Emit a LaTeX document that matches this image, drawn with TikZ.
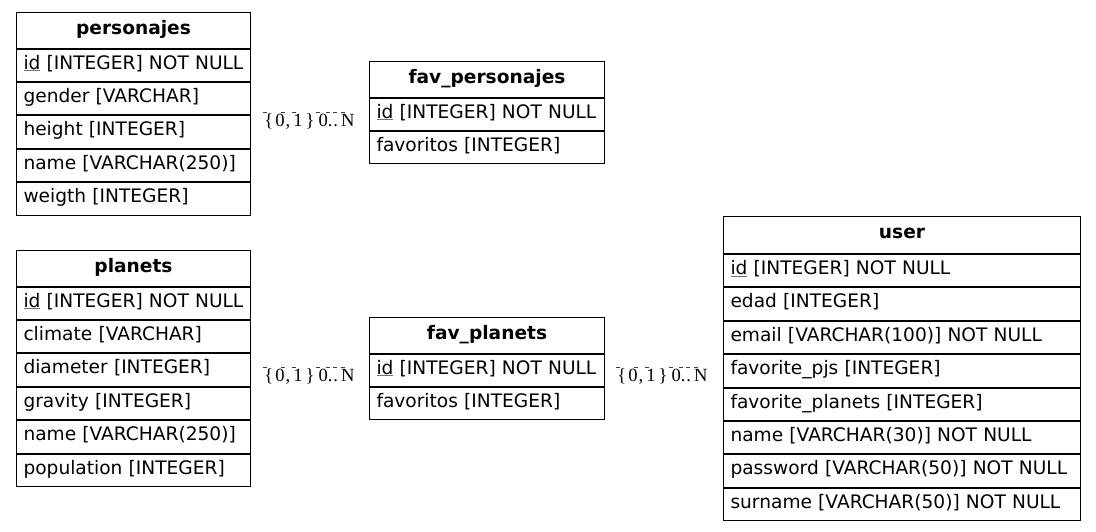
\documentclass[tikz,border=0pt]{standalone}
\usepackage{fontspec}
\setmainfont{DejaVu Sans}
\newfontfamily\cardfont{Liberation Serif}
\usepackage{tikz}
\usetikzlibrary{positioning}

% primary key: grey underline
\newcommand{\pkey}[1]{{\color{black!55}\underline{\textcolor{black}{#1}}}}
% short bar over the cardinality labels
\newcommand{\ovbar}{\makebox[0pt][l]{\color{black!75}\rule[13.5pt]{4pt}{0.7pt}}}
\newcommand{\card}{\cardfont\fontsize{18.6}{21}\selectfont
  \ovbar\hspace{1pt}\{\hspace{2pt}0\hspace{-4pt}\ovbar\hspace{4pt}\hspace{1pt},\hspace{2pt}\ovbar\hspace{1pt}1\hspace{3pt}\}\hspace{1pt}\ovbar\hspace{3pt}0\hspace{-2pt}\ovbar\hspace{2pt}.\hspace{1pt}\ovbar.\hspace{3pt}\ovbar N}

\begin{document}
\begin{tikzpicture}[
        x=1pt, y=-1pt,
        hdr/.style={draw, line width=1pt, anchor=north west, text width=#1, align=center,
                    inner xsep=7pt, inner ysep=0pt, minimum height=35.5pt,
                    text height=13pt, text depth=5.4pt,
                    font=\fontsize{18.6}{21}\selectfont\bfseries},
        fld/.style={draw, line width=1pt, text width=#1, align=left,
                    inner xsep=7pt, inner ysep=0pt, minimum height=32.4pt,
                    text height=13pt, text depth=5.4pt,
                    font=\fontsize{18.6}{21}\selectfont},
        cardlbl/.style={inner sep=0pt}
    ]
    \useasboundingbox (0,0) rectangle (1096,531);

    % personajes
    \node[hdr=220pt] at (16,12) (pers) {personajes};
    \node[fld=220pt, below=0pt of pers] (pers1) {\pkey{id} [INTEGER] NOT NULL};
    \node[fld=220pt, below=0pt of pers1] (pers2) {gender [VARCHAR]};
    \node[fld=220pt, below=0pt of pers2] (pers3) {height [INTEGER]};
    \node[fld=220pt, below=0pt of pers3] (pers4) {name [VARCHAR(250)]};
    \node[fld=220pt, below=0pt of pers4] (pers5) {weigth [INTEGER]};

    % planets
    \node[hdr=220pt] at (16,250) (plan) {planets};
    \node[fld=220pt, below=0pt of plan] (plan1) {\pkey{id} [INTEGER] NOT NULL};
    \node[fld=220pt, below=0pt of plan1] (plan2) {climate [VARCHAR]};
    \node[fld=220pt, below=0pt of plan2] (plan3) {diameter [INTEGER]};
    \node[fld=220pt, below=0pt of plan3] (plan4) {gravity [INTEGER]};
    \node[fld=220pt, below=0pt of plan4] (plan5) {name [VARCHAR(250)]};
    \node[fld=220pt, below=0pt of plan5] (plan6) {population [INTEGER]};

    % fav_personajes
    \node[hdr=221pt] at (369,61) (favpers) {fav\_personajes};
    \node[fld=221pt, below=0pt of favpers] (favpers1) {\pkey{id} [INTEGER] NOT NULL};
    \node[fld=221pt, below=0pt of favpers1] (favpers2) {favoritos [INTEGER]};

    % fav_planets
    \node[hdr=221pt] at (369,317) (favplan) {fav\_planets};
    \node[fld=221pt, below=0pt of favplan] (favplan1) {\pkey{id} [INTEGER] NOT NULL};
    \node[fld=221pt, below=0pt of favplan1] (favplan2) {favoritos [INTEGER]};

    % user
    \node[hdr=343pt, minimum height=37pt] at (723,216) (user) {user};
    \node[fld=343pt, below=0pt of user] (user1) {\pkey{id} [INTEGER] NOT NULL};
    \node[fld=343pt, below=0pt of user1] (user2) {edad [INTEGER]};
    \node[fld=343pt, below=0pt of user2] (user3) {email [VARCHAR(100)] NOT NULL};
    \node[fld=343pt, below=0pt of user3] (user4) {favorite\_pjs [INTEGER]};
    \node[fld=343pt, below=0pt of user4] (user5) {favorite\_planets [INTEGER]};
    \node[fld=343pt, below=0pt of user5] (user6) {name [VARCHAR(30)] NOT NULL};
    \node[fld=343pt, below=0pt of user6] (user7) {password [VARCHAR(50)] NOT NULL};
    \node[fld=343pt, below=0pt of user7] (user8) {surname [VARCHAR(50)] NOT NULL};

    % Cardinalities
    \node[cardlbl] at (309,121) (card1) {\card};
    \node[cardlbl] at (309,376) (card2) {\card};
    \node[cardlbl] at (662,376) (card3) {\card};

\end{tikzpicture}
\end{document}
